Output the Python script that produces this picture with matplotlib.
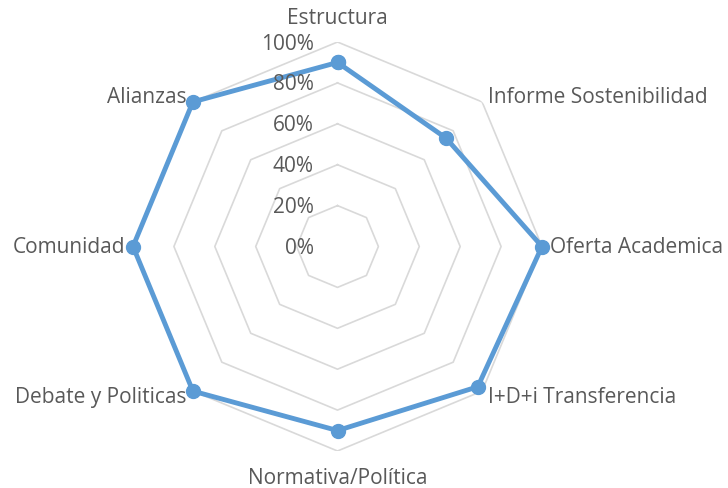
import numpy as np
import matplotlib
matplotlib.use('Agg')
import matplotlib.pyplot as plt
from matplotlib.transforms import offset_copy

# Datos
categorias = ['Estructura', 'Informe Sostenibilidad', 'Oferta Academica',
              'I+D+i Transferencia', 'Normativa/Política', 'Debate y Politicas',
              'Comunidad', 'Alianzas']
valores = [0.90, 0.75, 1.00, 0.97, 0.90, 1.00, 1.00, 1.00]
niveles = [0.2, 0.4, 0.6, 0.8, 1.0]
etiquetas_r = ['0%', '20%', '40%', '60%', '80%', '100%']

plt.rcParams['font.family'] = ['Open Sans', 'DejaVu Sans']
gris_texto = '#595959'
azul = '#5B9BD5'

n = len(categorias)
angulos = np.linspace(0, 2 * np.pi, n, endpoint=False)
ang_cerrado = np.append(angulos, angulos[0])

fig = plt.figure(figsize=(7.28, 4.88), dpi=100)
# centro en (337.5, 246.5) px, radio 204.5 px
cx, cy, rad = 337.5 / 728, 1 - 246.5 / 488, 204.5
ax = fig.add_axes([cx - rad / 728, cy - rad / 488, 2 * rad / 728, 2 * rad / 488],
                  projection='polar')
ax.set_theta_offset(np.pi / 2)
ax.set_theta_direction(-1)
ax.set_ylim(0, 1)
ax.grid(False)
ax.spines['polar'].set_visible(False)
ax.set_xticks([])
ax.set_yticks([])
ax.patch.set_alpha(0)

# rejilla octogonal
for nv in niveles:
    ax.plot(ang_cerrado, [nv] * (n + 1), color='#D9D9D9', lw=1.2, zorder=1)

# serie
v_cerrado = valores + [valores[0]]
ax.plot(ang_cerrado, v_cerrado, color=azul, lw=3.5, marker='o', ms=10,
        zorder=3, solid_joinstyle='round', clip_on=False)

# etiquetas radiales
for i, lab in enumerate(etiquetas_r):
    tr = offset_copy(ax.transData, fig=fig, x=-24, y=-2, units='dots')
    ax.text(0, i * 0.2, lab, transform=tr, ha='right', va='center',
            fontsize=15, color=gris_texto)

# etiquetas de categorias
posiciones = [
    (0, 24, 'center', 'center'),
    (6, 4, 'left', 'center'),
    (8, -1, 'left', 'center'),
    (6, -6, 'left', 'center'),
    (0, -27, 'center', 'center'),
    (-6, -6, 'right', 'center'),
    (-8, -1, 'right', 'center'),
    (-6, 4, 'right', 'center'),
]
for ang, cat, (dx, dy, ha, va) in zip(angulos, categorias, posiciones):
    tr = offset_copy(ax.transData, fig=fig, x=dx, y=dy, units='dots')
    ax.text(ang, 1.0, cat, transform=tr, ha=ha, va=va, fontsize=15,
            color=gris_texto)

fig.savefig('out.png', dpi=100)
